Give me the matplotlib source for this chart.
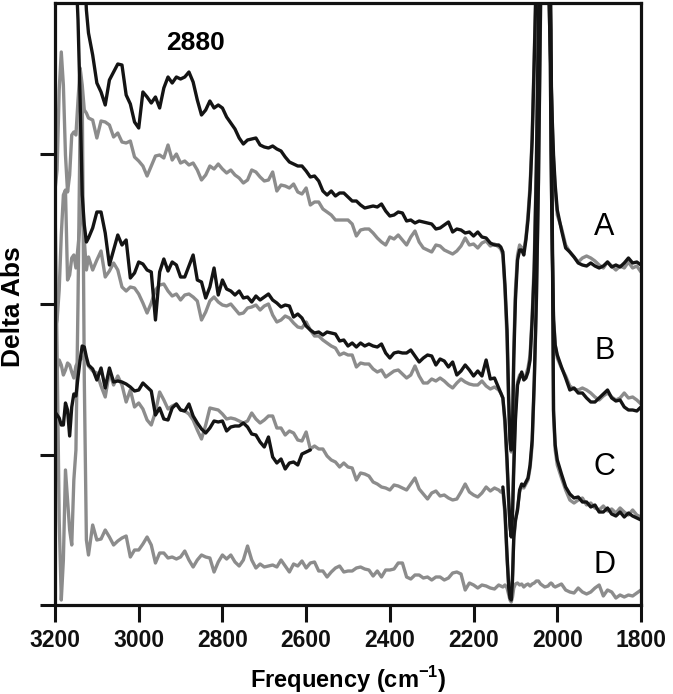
import numpy as np
import matplotlib
matplotlib.use("Agg")
import matplotlib.pyplot as plt
from matplotlib import font_manager

nan = np.nan

def pick_font(cands):
    avail = {f.name for f in font_manager.fontManager.ttflist}
    for c in cands:
        if c in avail:
            return c
    return "DejaVu Sans"

FONT = pick_font(["Liberation Sans Narrow", "Liberation Sans", "Arial", "DejaVu Sans"])
FONT_REG = pick_font(["Liberation Sans", "Arial", "DejaVu Sans"])
plt.rcParams["font.family"] = [FONT, "DejaVu Sans"]
plt.rcParams["mathtext.fontset"] = "custom"
plt.rcParams["mathtext.rm"] = FONT + ":bold"
plt.rcParams["mathtext.bf"] = FONT + ":bold"

# ---------------- frequency sampling (cm-1) ----------------
freq_left = [3200, 3195, 3190, 3185, 3180, 3175, 3170, 3165, 3160, 3155, 3150, 3145, 3140, 3135, 3130, 3125]
freq_main = list(range(3120, 2139, -10))
freq_peak = [2135, 2130, 2125, 2120, 2116, 2113, 2110, 2107, 2104, 2100, 2095, 2090, 2085, 2080, 2075,
             2070, 2065, 2060, 2055, 2050, 2045, 2040, 2030, 2022, 2018, 2015, 2012, 2009, 2005, 2000]
freq_right = list(range(1990, 1799, -10))
freq = np.array(freq_left + freq_main + freq_peak + freq_right, dtype=float)

# ---------------- Delta Abs values (arbitrary units, tick spacing = 150.5) ----------------
A_black = (
    [nan] * 14 + [640, 595] +
    [572, 550, 522, 513, 500, 525, 533, 541, 540, 510,
     501, 483, 477, 513, 508, 502, 508, 497, 517, 528,
     522, 528, 526, 528, 533, 523, 505, 490, 495, 504,
     497, 500, 497, 488, 482, 476, 467, 461, 465, 466,
     467, 460, 458, 457, 459, 456, 454, 448, 443, 441,
     439, 439, 434, 428, 429, 424, 414, 410, 414, 409,
     412, 412, 408, 404, 404, 400, 397, 398, 399, 398,
     401, 394, 389, 390, 393, 392, 384, 385, 382, 384,
     383, 382, 381, 376, 377, 380, 383, 373, 376, 375,
     372, 373, 369, 373, 368, 367, 362, 360, 360] +
    [358, 353, 320, 275, 205, 165, 155, 175, 245, 305,
     345, 355, 355, 350, 365, 385, 415, 465, 545, 635,
     900, 1200, 1500, 645, 575, 530, 485, 450, 420, 395] +
    [375, 357, 353, 348, 342, 340, 339, 342, 339, 337,
     339, 343, 338, 340, 338, 342, 347, 342, 343, 340]
)
A_gray = (
    [415, 435, 515, 553, 520, 450, 413, 430, 470, 473, 470, 505, 537, 520, 495, 492] +
    [487, 485, 467, 484, 483, 480, 468, 472, 463, 462,
     464, 448, 444, 439, 429, 439, 449, 450, 447, 460,
     445, 451, 442, 444, 440, 442, 435, 425, 430, 439,
     436, 441, 436, 432, 435, 430, 427, 422, 425, 435,
     433, 428, 424, 425, 433, 414, 420, 419, 417, 421,
     413, 411, 417, 400, 403, 403, 396, 393, 390, 385,
     385, 385, 385, 381, 369, 375, 376, 376, 372, 367,
     363, 360, 368, 366, 370, 365, 360, 368, 374, 363,
     357, 355, 353, 360, 359, 355, 353, 351, 354, 359,
     367, 360, 361, 357, 362, 364, 359, 361, 358] +
    [356, 350, 315, 265, 195, 160, 153, 180, 255, 315,
     350, 360, 357, 355, 367, 390, 420, 470, 550, 635,
     900, 1200, 1500, 645, 575, 525, 480, 445, 415, 390] +
    [377, 360, 353, 348, 343, 347, 349, 347, 344, 340,
     337, 343, 339, 335, 339, 337, 343, 337, 339, 333]
)
B_black = (
    [nan] * 10 + [635, 585, 505, 410, 380, 363] +
    [367, 377, 393, 393, 372, 340, 355, 370, 360, 365,
     327, 332, 343, 341, 335, 333, 285, 333, 346, 334,
     343, 340, 328, 328, 339, 350, 325, 323, 307, 318,
     337, 310, 325, 316, 314, 310, 314, 307, 308, 303,
     309, 305, 308, 311, 305, 302, 298, 300, 299, 288,
     291, 287, 279, 275, 272, 273, 270, 273, 272, 271,
     264, 265, 259, 262, 258, 262, 259, 261, 259, 258,
     261, 252, 247, 252, 253, 252, 252, 255, 249, 243,
     247, 250, 249, 240, 246, 244, 238, 243, 230, 234,
     240, 235, 229, 234, 229, 245, 226, 227, 217] +
    [212, 207, 185, 145, 105, 80, 68, 90, 135, 185,
     220, 227, 233, 225, 227, 233, 245, 285, 335, 435,
     585, 685, 1500, 685, 625, 455, 355, 285, 260, 250] +
    [238, 227, 215, 217, 212, 212, 207, 203, 203, 207,
     211, 215, 207, 204, 205, 198, 195, 195, 194, 198]
)
B_gray = (
    [275, 285, 315, 370, 410, 415, 325, 330, 347, 350, 337, 358, 382, 405, 365, 335] +
    [348, 335, 345, 354, 328, 334, 342, 335, 318, 314,
     318, 317, 311, 302, 292, 302, 315, 320, 321, 314,
     309, 311, 305, 310, 311, 308, 304, 285, 293, 304,
     308, 303, 300, 299, 301, 296, 291, 292, 297, 298,
     300, 295, 299, 301, 290, 283, 285, 289, 287, 282,
     278, 277, 283, 275, 269, 269, 265, 262, 259, 257,
     250, 252, 250, 250, 238, 242, 241, 241, 236, 233,
     235, 228, 231, 234, 235, 231, 227, 230, 239, 229,
     222, 222, 226, 224, 227, 224, 220, 217, 222, 226,
     223, 221, 220, 220, 224, 219, 216, 218, 215] +
    [212, 207, 180, 140, 100, 77, 70, 95, 145, 195,
     223, 230, 231, 227, 230, 237, 250, 290, 345, 445,
     590, 685, 1500, 685, 625, 455, 360, 290, 260, 247] +
    [237, 229, 219, 216, 215, 217, 215, 212, 208, 205,
     209, 212, 208, 205, 207, 212, 207, 208, 205, 201]
)
C_black = (
    [193, 190, 187, 180, 180, 202, 195, 169, 198, 211, 209, 228, 245, 259, 258, 248] +
    [240, 236, 225, 237, 217, 237, 223, 224, 223, 221,
     218, 214, 215, 222, 218, 214, 190, 197, 186, 185,
     197, 201, 195, 194, 201, 189, 182, 176, 172, 177,
     184, 183, 184, 174, 178, 179, 179, 182, 178, 171,
     170, 163, 158, 168, 148, 142, 146, 136, 142, 143,
     140, 151, 153, 155] + [nan] * 45 +
    [nan, 118, 95, 50, 17, 7, 5, 25, 68, 85,
     95, 115, 121, 119, 123, 127, 140, 165, 225, 305,
     425, 595, 1500, 685, 655, 575, 385, 195, 160, 145] +
    [131, 118, 111, 107, 108, 103, 103, 98, 100, 93,
     93, 97, 91, 89, 93, 88, 92, 89, 87, 85]
)
C_gray = (
    [225, 235, 245, 240, 230, 235, 242, 240, 233, 227, 239, 243, 245, 247, 249, 245] +
    [239, 234, 232, 219, 208, 233, 220, 229, 220, 203,
     215, 198, 202, 196, 185, 180, 193, 213, 205, 196,
     199, 201, 195, 194, 191, 185, 175, 166, 180, 197,
     196, 195, 191, 186, 187, 186, 184, 182, 184, 192,
     186, 182, 185, 189, 189, 177, 177, 170, 174, 172,
     165, 164, 173, 156, 159, 156, 156, 149, 145, 143,
     138, 142, 138, 137, 125, 132, 131, 129, 123, 121,
     118, 117, 115, 120, 119, 117, 115, 121, 127, 116,
     111, 106, 112, 114, 109, 110, 107, 105, 106, 113,
     121, 113, 110, 108, 112, 118, 114, 117, 115] +
    [113, 115, 90, 45, 20, 13, 10, 30, 65, 83,
     97, 113, 119, 117, 121, 125, 137, 160, 220, 300,
     420, 590, 1500, 685, 655, 575, 375, 190, 155, 140] +
    [127, 115, 105, 102, 105, 107, 100, 102, 97, 95,
     99, 94, 96, 92, 97, 93, 90, 95, 90, 88]
)
D_gray = (
    [405, 255, 85, 5, 45, 135, 105, 75, 60, 125, 155, 305, 485, 515, 225, 65] +
    [50, 80, 65, 66, 75, 68, 60, 64, 67, 69,
     48, 55, 55, 61, 68, 60, 42, 52, 52, 47,
     48, 46, 48, 54, 45, 38, 45, 50, 48, 47,
     33, 43, 50, 46, 50, 43, 39, 45, 59, 45,
     37, 41, 38, 39, 40, 38, 45, 39, 33, 41,
     39, 44, 37, 42, 43, 34, 34, 28, 33, 37,
     39, 33, 34, 34, 37, 38, 36, 35, 29, 34,
     28, 35, 35, 36, 42, 42, 28, 26, 30, 30,
     27, 28, 25, 28, 28, 25, 27, 32, 33, 31,
     15, 22, 20, 17, 20, 19, 17, 16, 20] +
    [19, 18, 20, 17, 10, 5, 3, 8, 17, 21,
     22, 20, 21, 18, 20, 21, 19, 21, 22, 24,
     24, 21, 18, 19, 21, 22, 21, 19, 18, 19] +
    [21, 15, 13, 12, 17, 13, 11, 13, 17, 20,
     9, 15, 13, 7, 10, 8, 10, 9, 12, 15]
)

trace_labels = ["A", "B", "C", "D"]
label_y = [378, 254, 138, 40]
x_ticks = [3200, 3000, 2800, 2600, 2400, 2200, 2000, 1800]
y_ticks = [0, 150.5, 301, 451.5]

BLACK = "#141414"
GRAY = "#8c8c8c"

fig = plt.figure(figsize=(6.73, 6.94), dpi=100)
ax = fig.add_axes([55 / 673, 1 - 605 / 694, 586 / 673, 602 / 694])

lw = 2.4
for ys in (A_gray, B_gray, C_gray, D_gray):
    ax.plot(freq, np.array(ys, dtype=float), color=GRAY, lw=lw,
            solid_joinstyle="round", solid_capstyle="round")
for ys in (A_black, B_black, C_black):
    ax.plot(freq, np.array(ys, dtype=float), color=BLACK, lw=lw,
            solid_joinstyle="round", solid_capstyle="round")

ax.set_xlim(3200, 1800)
ax.set_ylim(0, 602)
ax.set_xticks(x_ticks)
ax.set_xticklabels([str(t) for t in x_ticks], fontweight="bold", fontsize=16.5)
ax.set_yticks(y_ticks)
ax.set_yticklabels([])
ax.tick_params(axis="x", direction="out", length=12, width=2.2, pad=5, colors="#111111")
ax.tick_params(axis="y", direction="out", length=11, width=2.2, colors="#111111")
for s in ax.spines.values():
    s.set_linewidth(2.3)
    s.set_color("#111111")

ax.set_xlabel("Frequency (cm$^{\u2212 1}$)", fontweight="bold", fontsize=17, labelpad=9)
fig.text(13 / 673, 1 - 307 / 694, "Delta Abs", rotation=90, fontweight="bold", fontsize=19,
         ha="center", va="center", family=[FONT_REG, "DejaVu Sans"])

ax.text(2865, 562, "2880", fontweight="bold", fontsize=19, ha="center", va="center",
        family=[FONT_REG, "DejaVu Sans"])
for lab, yy in zip(trace_labels, label_y):
    ax.text(1888, yy, lab, fontsize=22, ha="center", va="center", family=[FONT_REG, "DejaVu Sans"])

fig.savefig("out.png", dpi=100)
